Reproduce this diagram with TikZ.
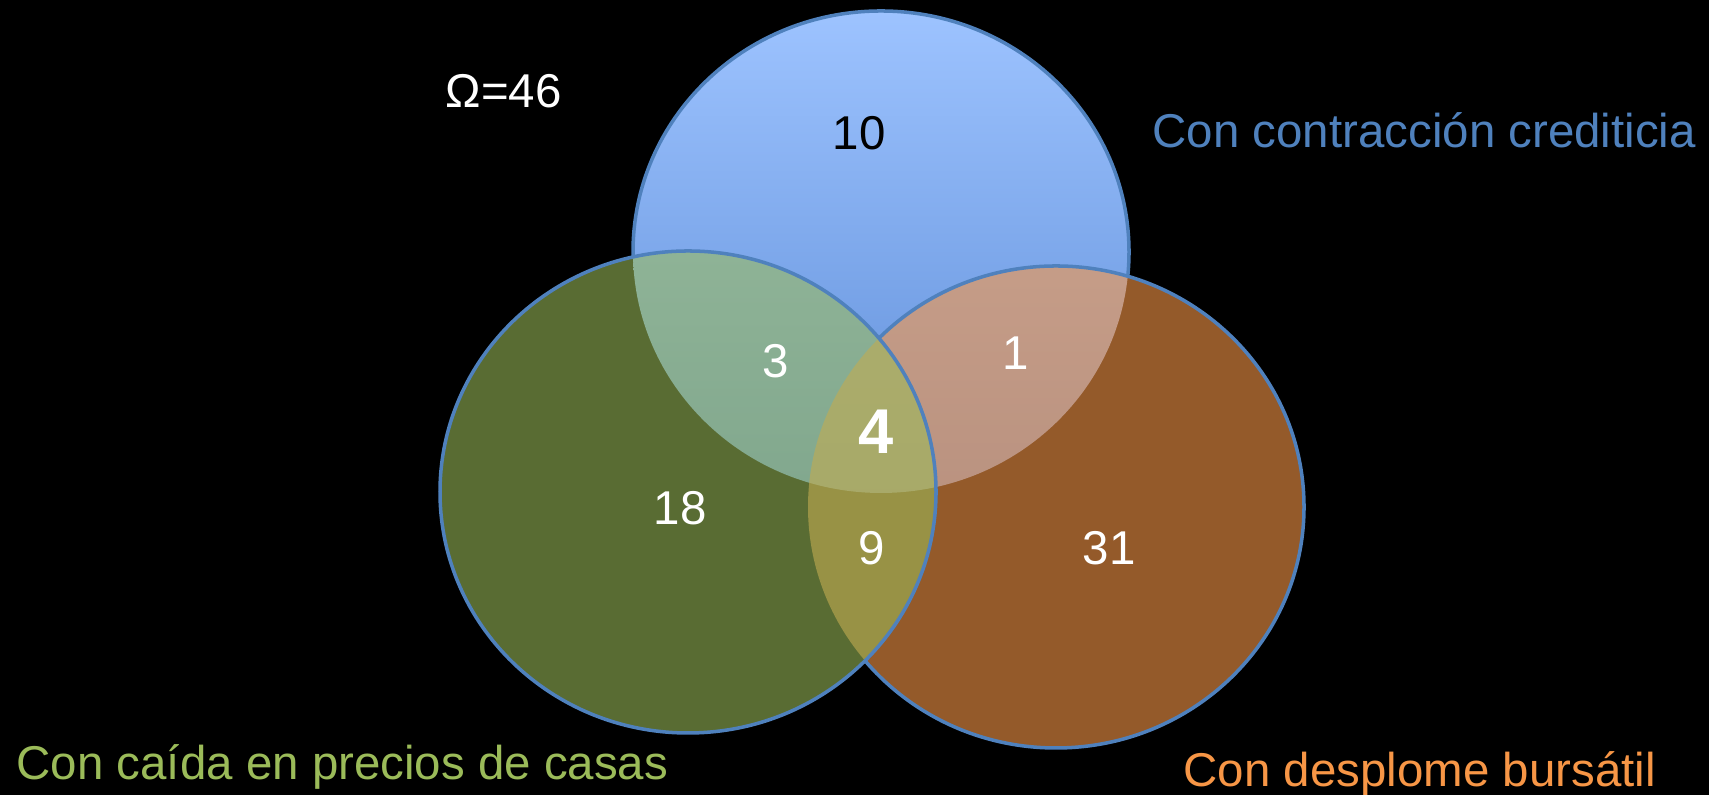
\documentclass[tikz,border=0pt]{standalone}
\usepackage{fontspec}
\setmainfont{Liberation Sans}
\usepackage{tikz}
\usetikzlibrary{shapes, backgrounds, calc}
\definecolor{credito}{HTML}{4F81BD}
\definecolor{casas}{HTML}{9BBB59}
\definecolor{bolsa}{HTML}{F79646}
\definecolor{cielo}{HTML}{9DC3FF}
\definecolor{azulbajo}{HTML}{5F8ED8}

\begin{document}
\begin{tikzpicture}[
        radios/.style = {x radius = 2.48, y radius = 2.41},
        borde/.style = {draw = credito, line width = 1pt},
        cifra/.style = {inner sep = 0pt, font = \fontsize{13.5}{16}\selectfont, text = white},
        rotulo/.style = {inner sep = 0pt, anchor = base west, font = \fontsize{13.5}{16}\selectfont}
    ]
        \fill [black] (0, 0) rectangle (17.09, 7.95);
        \useasboundingbox (0, 0) rectangle (17.09, 7.95);

        \coordinate (cred) at (8.81, 5.43);
        \coordinate (casa) at (6.88, 3.03);
        \coordinate (bols) at (10.56, 2.88);

        % conjuntos
        \shade [top color = cielo, bottom color = azulbajo] (cred) ellipse [radios];
        \fill [bolsa, fill opacity = 0.6] (bols) ellipse [radios];
        \fill [casas, fill opacity = 0.58] (casa) ellipse [radios];

        % bordes
        \draw [borde] (casa) ellipse [radios];
        \begin{scope}[even odd rule]
            \clip (0, 0) rectangle (17.09, 7.95) (casa) ellipse [radios];
            \draw [borde] (bols) ellipse [radios];
            \begin{scope}[even odd rule]
                \clip (0, 0) rectangle (17.09, 7.95) (bols) ellipse [radios];
                \draw [borde] (cred) ellipse [radios];
            \end{scope}
        \end{scope}

        % cifras
        \node (omega) [rotulo, text = white] at (4.45, 6.87) {Ω=46};
        \node (n10) [cifra, text = black] at (8.59, 6.62) {10};
        \node (n3) [cifra] at (7.76, 4.34) {3};
        \node (n1) [cifra] at (10.16, 4.42) {1};
        \node (n4) [cifra, font = \fontsize{18}{20}\selectfont\bfseries] at (8.76, 3.63) {4};
        \node (n18) [cifra] at (6.80, 2.87) {18};
        \node (n9) [cifra] at (8.72, 2.47) {9};
        \node (n31) [cifra] at (11.09, 2.47) {31};

        \node (lcred) [rotulo, text = credito] at (11.52, 6.47) {Con contracción crediticia};
        \node (lcasa) [rotulo, text = casas] at (0.16, 0.15) {Con caída en precios de casas};
        \node (lbols) [rotulo, text = bolsa] at (11.83, 0.08) {Con desplome bursátil};
    \end{tikzpicture}
\end{document}
